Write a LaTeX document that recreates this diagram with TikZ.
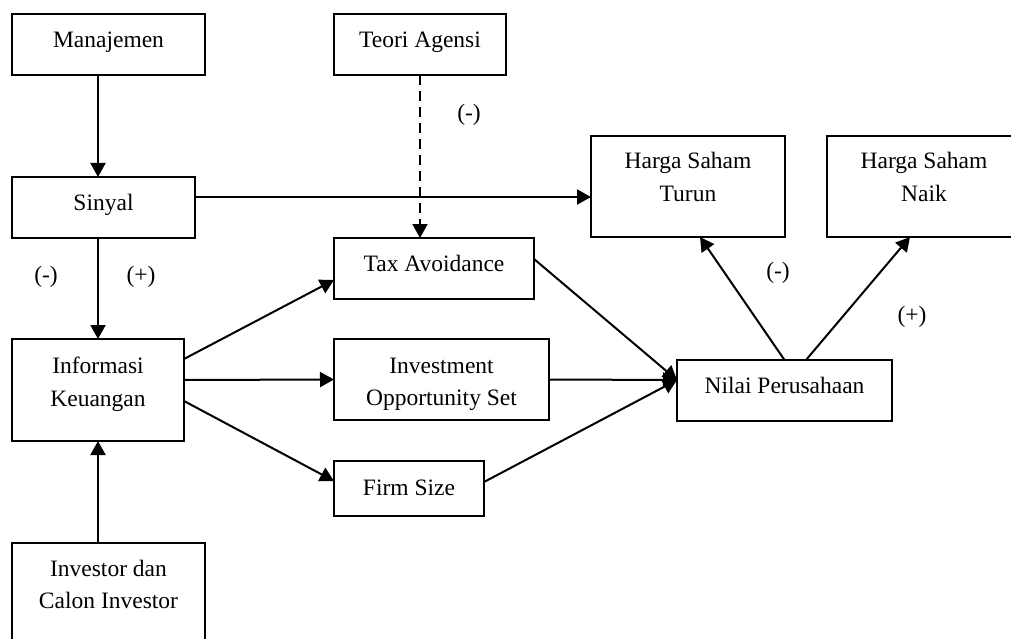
\documentclass[tikz,border=0pt]{standalone}
\usepackage{fontspec}
\setmainfont{Liberation Serif}
\usetikzlibrary{arrows.meta}
\tikzset{
  box/.style={draw=black, line width=2pt, inner sep=0pt, outer sep=0pt},
  txt/.style={anchor=base, inner sep=0pt, font=\fontsize{23.5}{30}\selectfont},
  arr/.style={line width=2pt, -{Triangle[length=14pt,width=15pt]}},
}
\begin{document}
\begin{tikzpicture}[x=1pt,y=-1pt]
\clip (0,0) rectangle (1011,639);
\fill[white] (0,0) rectangle (1011,639);
% boxes
\node[box, minimum width=193, minimum height=61] (man) at (108.5,44.5) {};
\node[box, minimum width=172, minimum height=61] (teori) at (420,44.5) {};
\node[box, minimum width=183, minimum height=61] (sin) at (103.5,207.5) {};
\node[box, minimum width=200, minimum height=61] (tax) at (434,268.5) {};
\node[box, minimum width=194, minimum height=101] (turun) at (688,186.5) {};
\node[box, minimum width=194, minimum height=101] (naik) at (924,186.5) {};
\node[box, minimum width=172, minimum height=102] (info) at (98,390) {};
\node[box, minimum width=215, minimum height=81] (ios) at (441.5,379.5) {};
\node[box, minimum width=150, minimum height=55] (firm) at (409,488.5) {};
\node[box, minimum width=215, minimum height=61] (nilai) at (784.5,390.5) {};
\node[box, minimum width=193, minimum height=107] (inv) at (108.5,596.5) {};
% texts
\node[txt] (tman) at (108.5,48) {Manajemen};
\node[txt] (tteori) at (420,48) {Teori Agensi};
\node[txt] (tsin) at (103.5,210) {Sinyal};
\node[txt] (ttax) at (434,271) {Tax Avoidance};
\node[txt] (tturun1) at (688,169) {Harga Saham};
\node[txt] (tturun2) at (688,201) {Turun};
\node[txt] (tnaik1) at (924,169) {Harga Saham};
\node[txt] (tnaik2) at (924,201) {Naik};
\node[txt] (tinfo1) at (98,373) {Informasi};
\node[txt] (tinfo2) at (98,406) {Keuangan};
\node[txt] (tios1) at (441.5,373) {Investment};
\node[txt] (tios2) at (441.5,405) {Opportunity Set};
\node[txt] (tfirm) at (409,495) {Firm Size};
\node[txt] (tnilai) at (784.5,393) {Nilai Perusahaan};
\node[txt] (tinv1) at (108.5,576) {Investor dan};
\node[txt] (tinv2) at (108.5,608) {Calon Investor};
% signs
\node[txt] (s1) at (469,121) {(-)};
\node[txt] (s2) at (46,282) {(-)};
\node[txt] (s3) at (141,282) {(+)};
\node[txt] (s4) at (778,278) {(-)};
\node[txt] (s5) at (912,322) {(+)};
% connectors
\draw[arr] ([xshift=-10.5pt]man.south) -- ([xshift=-5.5pt]sin.north);
\draw[arr, dash pattern=on 10pt off 6pt] (teori.south) -- ([xshift=-14pt]tax.north);
\draw[arr] ([yshift=10.5pt]sin.east) -- ([yshift=-10.5pt]turun.west);
\draw[arr] ([xshift=-5.5pt]sin.south) -- (info.north);
\draw[arr] ([xshift=-10.5pt]inv.north) -- (info.south);
\draw[arr] ([yshift=31pt]info.east) -- ([yshift=-11.5pt]tax.west);
\draw[arr] ([yshift=10pt]info.east) -- (ios.west);
\draw[arr] ([yshift=-11pt]info.east) -- ([yshift=7.5pt]firm.west);
\draw[arr] ([yshift=9.5pt]tax.east) -- ([yshift=10.5pt]nilai.west);
\draw[arr] (ios.east) -- ([yshift=10.5pt]nilai.west);
\draw[arr] ([yshift=6.5pt]firm.east) -- ([yshift=10.5pt]nilai.west);
\draw[arr] (nilai.north) -- ([xshift=12pt]turun.south);
\draw[arr] ([xshift=21.5pt]nilai.north) -- ([xshift=-14pt]naik.south);
\end{tikzpicture}
\end{document}
